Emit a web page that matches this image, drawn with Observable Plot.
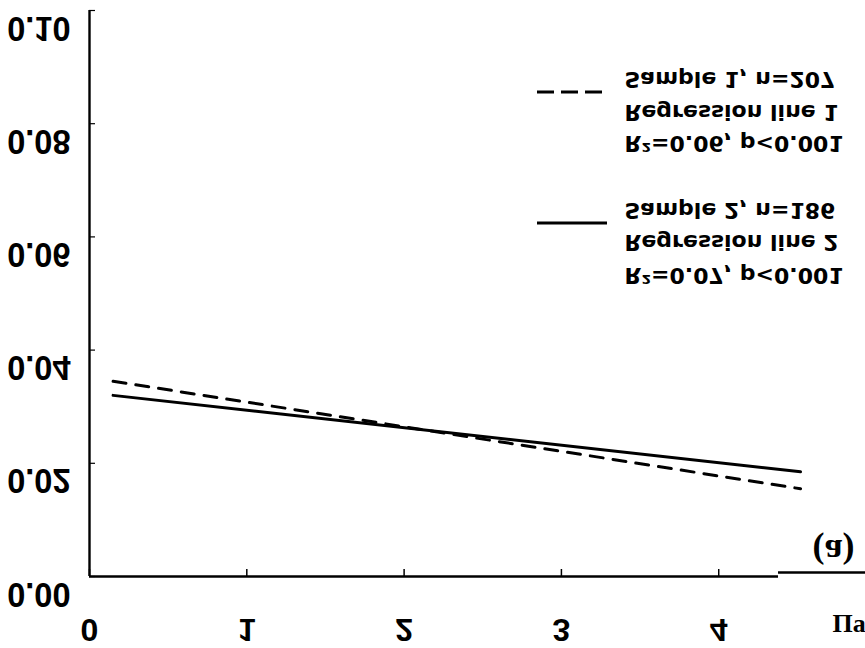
<!DOCTYPE html>
<html><head><meta charset="utf-8">
<script src="https://cdn.jsdelivr.net/npm/d3@7"></script>
<script src="https://cdn.jsdelivr.net/npm/@observablehq/plot@0.6"></script>
<style>body{margin:0;background:#fff}</style>
</head><body><div id="chart"></div>
<script>
const xTicks = [0, 1, 2, 3, 4];
const yTicks = [0, 0.02, 0.04, 0.06, 0.08, 0.10];
const yTickLabels = ["0.00", "0.02", "0.04", "0.06", "0.08", "0.10"];
const lineX = [0.15, 4.52];
const line1Y = [0.0345, 0.0155];   // Sample 1 regression (dashed)
const line2Y = [0.0320, 0.0185];   // Sample 2 regression (solid)
const legend1 = ["Sample 1, n=207", "Regression line 1", "R²=0.06, p<0.001"];
const legend2 = ["Sample 2, n=186", "Regression line 2", "R²=0.07, p<0.001"];
const panelLabel = "(a)";
const xLabel = "Па";

const line1 = lineX.map((x, i) => ({x, y: line1Y[i]}));
const line2 = lineX.map((x, i) => ({x, y: line2Y[i]}));

const legendOffsets1 = [69, 102, 133];
const legendOffsets2 = [200, 232, 265];
const legendFont = {fontSize: 22, fontWeight: "bold", fill: "black", textAnchor: "start", lineAnchor: "middle", frameAnchor: "top-left", fontFamily: "'DejaVu Sans', sans-serif"};

const chart = Plot.plot({
  width: 865, height: 648,
  marginLeft: 89, marginRight: 87, marginTop: 10, marginBottom: 72,
  x: {domain: [0, 4.38]},
  y: {domain: [0, 0.10]},
  style: {fontFamily: "'Liberation Sans', Arial, sans-serif", background: "white", color: "black", overflow: "hidden"},
  marks: [
    Plot.axisY({ticks: yTicks, tickSize: -6, tickFormat: () => "", label: null, strokeWidth: 1.2}),
    Plot.axisY({ticks: yTicks, tickSize: 0, tickPadding: 19, dy: 20, tickFormat: d => yTickLabels[yTicks.indexOf(d)], label: null, fontSize: 35, fontWeight: "bold"}),
    Plot.axisX({ticks: xTicks, tickSize: -7, tickFormat: () => "", label: null, strokeWidth: 1.5}),
    Plot.axisX({ticks: xTicks, tickSize: 0, tickPadding: 42, tickFormat: d => String(d), label: null, fontSize: 32, fontWeight: "bold", fontFamily: "'Liberation Sans Narrow', 'Liberation Sans', sans-serif"}),
    Plot.ruleX([0], {strokeWidth: 2.4}),
    Plot.ruleY([0], {strokeWidth: 2.4}),
    Plot.ruleY([0], {x1: 4.38, x2: 4.95, dy: -4, strokeWidth: 2.4}),
    Plot.line(line1, {x: "x", y: "y", stroke: "black", strokeWidth: 3, strokeDasharray: "13,10"}),
    Plot.line(line2, {x: "x", y: "y", stroke: "black", strokeWidth: 3}),
    ...legend1.map((t, i) => Plot.text([t], {...legendFont, dx: 535, dy: legendOffsets1[i]})),
    ...legend2.map((t, i) => Plot.text([t], {...legendFont, dx: 535, dy: legendOffsets2[i]})),
    Plot.text([panelLabel], {frameAnchor: "bottom-right", dx: 55, dy: -24, fontSize: 36, fontWeight: "bold", textAnchor: "middle", lineAnchor: "middle", fontFamily: "'Liberation Serif', 'Times New Roman', serif"}),
    Plot.text([xLabel], {frameAnchor: "bottom-right", dx: 54, dy: 47, fontSize: 26, fontWeight: "bold", textAnchor: "start", lineAnchor: "middle", fontFamily: "'Liberation Serif', 'Times New Roman', serif"})
  ]
});
document.getElementById("chart").append(chart);

const svg = d3.select(chart);
// legend swatches
svg.append("line").attr("x1", 537).attr("x2", 602).attr("y1", 92).attr("y2", 92)
  .attr("stroke", "black").attr("stroke-width", 3).attr("stroke-dasharray", "17,7");
svg.append("line").attr("x1", 537).attr("x2", 607).attr("y1", 223).attr("y2", 223)
  .attr("stroke", "black").attr("stroke-width", 3);

// glyphs in the reference are mirrored top-to-bottom: flip each text in place
svg.selectAll("text").each(function() {
  if (this.textContent === xLabel) return;
  const isY = yTickLabels.includes(this.textContent);
  const sx = isY ? 0.93 : 1;
  const b = this.getBBox();
  const cy = b.y + b.height / 2;
  const ax = isY ? b.x + b.width : b.x;
  const t = this.getAttribute("transform") || "";
  this.setAttribute("transform", `${t} translate(${ax * (1 - sx)},${2 * cy}) scale(${sx},-1)`);
});
</script>
</body></html>
